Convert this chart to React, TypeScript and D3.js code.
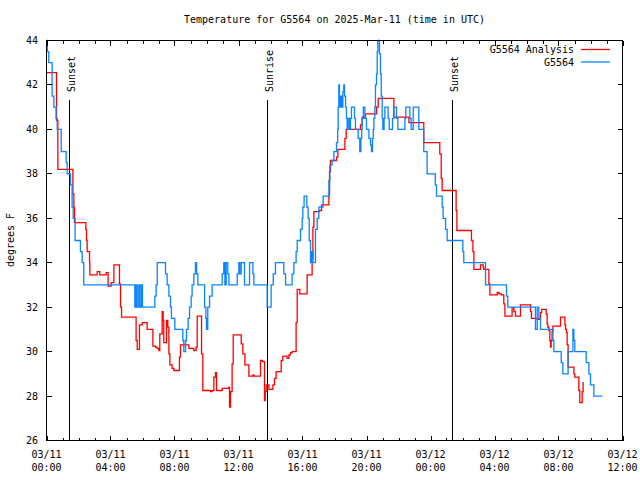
import React from "react";
import * as d3 from "d3";

const START = Date.UTC(2025, 2, 11, 0, 0);
const SPAN_HOURS = 36;

const analysisHours = [
  0, 0.625, 0.71, 1.65, 1.71, 1.75, 2.46, 2.5, 2.54, 2.69, 2.71, 3.17, 3.33, 3.73, 3.85, 4.04, 4.21, 4.56, 4.625, 4.69,
  5.6, 5.67, 5.81, 5.98, 6.29, 6.65, 6.81, 6.92, 7.02, 7.08, 7.23, 7.29, 7.33, 7.5, 7.58, 7.65, 7.71, 7.85, 7.96,
  8.31, 8.375, 8.9, 9.21, 9.35, 9.42, 9.69, 9.77, 10.25, 10.35, 10.46, 10.56, 10.625, 10.98, 11.4, 11.44, 11.5,
  11.6, 11.67, 12.17, 12.27, 12.4, 12.65, 12.9, 12.96, 13.375, 13.5, 13.625, 13.67, 13.73, 13.9, 14.15, 14.25,
  14.35, 14.67, 14.77, 15.04, 15.15, 15.25, 15.35, 15.6, 15.67, 15.83, 16.29, 16.6, 16.65, 16.71, 17.06, 17.19,
  17.65, 17.69, 17.75, 18.125, 18.21, 18.65, 18.73, 19.625, 19.73, 19.94, 20.625, 20.73, 21.71, 22.65, 23.58,
  24.58, 24.67, 24.73, 25.6, 25.65, 26.56, 26.65, 26.71, 27.125, 27.29, 27.33, 27.65, 27.71, 28.17, 28.27, 28.42,
  28.58, 28.65, 29.1, 29.21, 29.31, 29.625, 30.25, 30.31, 30.67, 30.875, 30.94, 31.23, 31.29, 31.33, 31.4, 31.46,
  31.5, 31.54, 31.6, 31.65, 32.125, 32.4, 32.44, 32.5, 32.54, 32.6, 32.96, 33.02, 33.27, 33.33, 33.48, 33.54, 33.58,
];
const analysisTemps = [
  42.55, 40.4, 38.2, 37.1, 36.5, 35.8, 35.5, 35.0, 34.5, 34.0, 33.45, 33.6, 33.45, 33.55, 32.95, 33.1, 33.9, 33.05, 32.0, 31.55,
  30.5, 30.1, 31.2, 31.3, 31.0, 30.25, 30.2, 30.15, 30.05, 30.8, 31.8, 31.4, 30.4, 31.4, 31.1, 29.9, 29.4, 29.25, 29.15,
  29.75, 30.3, 30.15, 30.05, 30.2, 31.6, 29.9, 28.25, 28.2, 28.25, 28.85, 29.05, 28.25, 28.35, 28.4, 27.5, 28.2,
  29.45, 30.75, 30.35, 29.9, 29.4, 28.9, 28.95, 28.9, 29.6, 29.55, 27.8, 28.2, 28.5, 28.3, 28.5, 28.8,
  29.1, 29.6, 29.8, 29.7, 29.85, 29.95, 30.0, 31.3, 32.8, 32.6, 33.45, 34.2, 35.6, 36.3, 36.35, 36.6,
  37.1, 38.1, 38.6, 38.75, 39.1, 39.6, 40.0, 40.2, 40.55, 40.7, 41.0, 41.4, 40.55, 40.3, 39.4,
  38.9, 37.8, 37.25, 36.35, 35.45, 35.0, 34.5, 33.7, 33.9, 33.8, 33.7, 33.05, 32.55, 32.67, 32.6, 32.55,
  32.15, 31.6, 31.97, 31.8, 31.6, 32.1, 31.8, 31.5, 31.45, 31.75, 31.9, 31.7, 31.25, 31.1, 30.95, 30.5,
  30.2, 30.5, 30.9, 31.15, 31.55, 31.2, 31.0, 30.85, 30.3, 29.3, 29.0, 28.85, 28.25, 27.7, 28.2, 28.6, 28.6,
];

const obsHours = [
  0, 0.05, 0.14, 0.35, 0.46, 0.6, 0.67, 0.92, 1.23, 1.29, 1.5, 1.6, 1.67, 1.79, 2.12, 2.23, 2.33,
  5.52, 5.6, 5.67, 5.77, 5.83, 5.92, 6.0, 6.77, 6.85, 6.92, 7.44, 7.54, 7.65, 7.75, 7.81, 8.02, 8.52, 8.58,
  8.69, 8.75, 8.85, 8.94, 9.04, 9.1, 9.21, 9.31, 9.38, 9.46, 9.88, 9.96, 10.0, 10.08, 10.19, 10.35, 10.98,
  11.08, 11.15, 11.23, 11.33, 11.4, 11.92, 12.02, 12.08, 12.17, 12.375, 12.69, 12.9, 12.96, 13.79, 14.04,
  14.17, 14.31, 14.83, 14.94, 15.35, 15.46, 15.6, 15.67, 15.875, 15.98, 16.02, 16.1, 16.27, 16.35, 16.42,
  16.5, 16.58, 16.65, 16.81, 16.92, 17.02, 17.29, 17.65, 17.71, 17.85, 17.96, 18.125, 18.2, 18.23, 18.27,
  18.31, 18.375, 18.44, 18.52, 18.58, 18.625, 18.69, 18.75, 18.79, 18.85, 18.94, 19.0, 19.06, 19.25, 19.31,
  19.48, 19.58, 19.65, 19.7, 19.73, 19.8, 19.9, 20.0, 20.15, 20.25, 20.31, 20.375, 20.42, 20.46, 20.52, 20.56,
  20.625, 20.67, 20.71, 20.81, 20.875, 20.92, 20.98, 21.02, 21.1, 21.15, 21.35, 21.42, 21.625, 21.71, 21.875,
  21.96, 22.4, 22.46, 22.71, 22.79, 22.92, 23.27, 23.58, 23.79, 24.3, 24.375, 24.73, 24.79, 24.94, 25.04,
  26.02, 26.08, 27.44, 28.75, 28.83, 30.56, 30.67, 30.77, 30.875, 31.65, 31.71, 32.17, 32.27, 32.6, 32.9,
  32.96, 33.02, 33.73, 33.9, 34.0, 34.21, 34.73,
];
const obsTemps = [
  44, 43.5, 43, 41.5, 41, 40.5, 40, 39, 38.5, 38, 37.5, 36.5, 36, 35, 34.5, 34, 33,
  32, 33, 32, 33, 32, 33, 32, 32.5, 33, 34, 33.5, 33, 32.5, 32, 31.5, 31, 30.5, 30,
  30.5, 31, 31.5, 32, 32.5, 33, 33.5, 34, 33.5, 33, 32, 31.5, 31, 32, 32.5, 33, 33.5,
  34, 33, 34, 33.5, 33, 33.5, 34, 33.5, 34, 33, 34, 33.5, 33, 32, 33,
  33.5, 34, 33.5, 33, 33.5, 34, 34.5, 35, 35.5, 36, 36.5, 37, 36.5, 36, 35,
  34, 34.5, 34, 35.5, 36, 36.5, 37, 37.7, 38.4, 38.6, 39, 39.4, 40, 41, 42,
  41, 41.5, 41, 41.7, 42, 41.5, 41, 40.5, 40, 40.5, 40, 40.5, 41, 40.5, 40,
  39.6, 39, 39.6, 40, 40.5, 41, 40.5, 40, 39.6, 39.3, 39, 39.6, 40, 40.5, 41, 42,
  42.5, 43.5, 44, 43.4, 42.5, 41.5, 40.5, 40, 40.5, 41, 40.5, 40, 40.5, 41, 40.5,
  40, 40.5, 41, 40.5, 40, 41, 40, 39, 38, 37.5, 37, 36.5, 36, 35.5, 35,
  34.5, 34, 33, 32.5, 32, 31, 32, 31.5, 31, 30.5, 30, 29.5, 29, 30, 31,
  30.5, 30, 29.5, 29, 28.5, 28, 28,
];

const yTicks = [26, 28, 30, 32, 34, 36, 38, 40, 42, 44];
const xMajorHours = [0, 4, 8, 12, 16, 20, 24, 28, 32, 36];
const eventLabels = ["Sunset", "Sunrise", "Sunset"];
const eventTimes = ["2025-03-11T01:22:30Z", "2025-03-11T13:45:00Z", "2025-03-12T01:20:00Z"];
const seriesNames = ["G5564 Analysis", "G5564"];
const seriesColors = ["#ff0000", "#0a84ff"];

const FONT = "'DejaVu Sans Mono', 'Liberation Mono', monospace";

export default function App() {
  const left = 46.5, right = 622.5, top = 40.5, bottom = 440.5;
  const hourDate = (h: number) => new Date(START + h * 3600e3);
  const x = d3.scaleUtc().domain([hourDate(0), hourDate(SPAN_HOURS)]).range([left, right]);
  const y = d3.scaleLinear().domain([26, 44]).range([bottom, top]);
  type P = { d: Date; v: number };
  const mk = (hs: number[], ts: number[]): P[] => hs.map((h, i) => ({ d: hourDate(h), v: ts[i] }));
  const line = d3
    .line<P>()
    .x((p) => x(p.d))
    .y((p) => y(p.v))
    .curve(d3.curveStepAfter);
  const analysis = mk(analysisHours, analysisTemps);
  const obs = mk(obsHours, obsTemps);
  const minorHours = d3.range(0, SPAN_HOURS + 1);
  const fmtD = d3.utcFormat("%m/%d");
  const fmtT = d3.utcFormat("%H:%M");

  return (
    <svg
      width={640}
      height={480}
      style={{ position: "absolute", left: 0, top: 0, display: "block", background: "#fff" }}
      fontFamily={FONT}
      fontSize={10}
    >
      <rect x={0} y={0} width={640} height={480} fill="#fff" />
      <text x={(left + right) / 2} y={23} textAnchor="middle">
        Temperature for G5564 on 2025-Mar-11 (time in UTC)
      </text>
      {eventTimes.map((t, i) => {
        const ex = Math.round(x(new Date(t))) + 0.5;
        return (
          <g key={"ev" + i}>
            <line x1={ex} x2={ex} y1={100} y2={bottom} stroke="#000" strokeWidth={1} shapeRendering="crispEdges" />
            <text transform={`translate(${ex + 5},92) rotate(-90)`} textAnchor="start">
              {eventLabels[i]}
            </text>
          </g>
        );
      })}
      <path d={line(analysis) || ""} fill="none" stroke={seriesColors[0]} strokeWidth={1.3} />
      <path d={line(obs) || ""} fill="none" stroke={seriesColors[1]} strokeWidth={1.3} />
      <rect x={left} y={top} width={right - left} height={bottom - top} fill="none" stroke="#000" shapeRendering="crispEdges" />
      {minorHours.map((h) => {
        const tx = Math.round(x(hourDate(h))) + 0.5;
        const len = h % 4 === 0 ? 5 : 3;
        return (
          <g key={"xt" + h} stroke="#000" shapeRendering="crispEdges">
            <line x1={tx} x2={tx} y1={bottom} y2={bottom - len} />
            <line x1={tx} x2={tx} y1={top} y2={top + len} />
          </g>
        );
      })}
      {xMajorHours.map((h) => {
        const d = hourDate(h);
        const tx = x(d);
        return (
          <g key={"xl" + h}>
            <text x={tx} y={458} textAnchor="middle">{fmtD(d)}</text>
            <text x={tx} y={471} textAnchor="middle">{fmtT(d)}</text>
          </g>
        );
      })}
      {yTicks.map((v) => {
        const ty = Math.round(y(v) - 0.5) + 0.5;
        return (
          <g key={"yt" + v}>
            <line x1={left} x2={left + 5} y1={ty} y2={ty} stroke="#000" shapeRendering="crispEdges" />
            <line x1={right} x2={right - 5} y1={ty} y2={ty} stroke="#000" shapeRendering="crispEdges" />
            <text x={38} y={ty + 3.5} textAnchor="end">{v}</text>
          </g>
        );
      })}
      <text transform={`translate(13.5,240) rotate(-90)`} textAnchor="middle">
        degrees F
      </text>
      {seriesNames.map((n, i) => (
        <g key={"lg" + i}>
          <text x={574} y={53 + i * 12.5} textAnchor="end">{n}</text>
          <line x1={581} x2={610} y1={49.5 + i * 12.5} y2={49.5 + i * 12.5} stroke={seriesColors[i]} strokeWidth={1.3} />
        </g>
      ))}
    </svg>
  );
}
